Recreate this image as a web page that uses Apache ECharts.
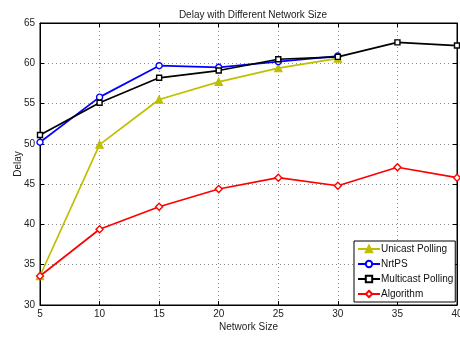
<!DOCTYPE html>
<html>
<head>
<meta charset="utf-8">
<script src="https://cdn.jsdelivr.net/npm/echarts@6/dist/echarts.min.js"></script>
<style>
  html, body { margin: 0; padding: 0; background: #fff; }
  #chart { width: 460px; height: 338px; }
</style>
</head>
<body>
<div id="chart"></div>
<script>
// Network sizes on the x axis
const networkSize = [5, 10, 15, 20, 25, 30, 35, 40];

// Average delay per scheme
const unicastPolling = [33.6, 49.9, 55.5, 57.7, 59.4, 60.6];
const nrtps = [50.2, 55.8, 59.7, 59.5, 60.2, 60.9];
const multicastPolling = [51.1, 55.1, 58.2, 59.1, 60.5, 60.8, 62.6, 62.2];
const algorithm = [33.6, 39.4, 42.2, 44.4, 45.8, 44.8, 47.1, 45.8];

const seriesNames = ['Unicast Polling', 'NrtPS', 'Multicast Polling', 'Algorithm'];

const pairs = vals => vals.map((v, i) => [networkSize[i], v]);

const FONT = 'Liberation Sans';

const chart = echarts.init(document.getElementById('chart'), null, { renderer: 'canvas' });

const dotted = { show: true, lineStyle: { color: '#888', type: [1, 3], width: 1 } };

function line(name, data, color, symbol, size, fill) {
  return {
    name: name,
    type: 'line',
    data: pairs(data),
    symbol: symbol,
    symbolSize: size,
    showSymbol: true,
    lineStyle: { color: color, width: 1.7 },
    itemStyle: { color: fill ? color : '#fff', borderColor: color, borderWidth: 1.4 },
    emphasis: { disabled: true },
    animation: false,
    z: 3
  };
}

chart.setOption({
  backgroundColor: '#fff',
  animation: false,
  title: {
    text: 'Delay with Different Network Size',
    left: 248,
    top: 5,
    textAlign: 'center',
    textStyle: { fontFamily: FONT, fontSize: 10, fontWeight: 'normal', color: '#222' }
  },
  grid: {
    left: 40, right: 3, top: 23, bottom: 33,
    outerBoundsMode: 'none', containLabel: false,
    show: true, borderColor: '#000', borderWidth: 1
  },
  legend: {
    data: seriesNames,
    orient: 'vertical',
    left: 354,
    top: 241,
    itemGap: 5,
    itemWidth: 22,
    itemHeight: 8,
    padding: [3, 2, 3, 3],
    borderColor: '#000',
    borderWidth: 1,
    backgroundColor: '#fff',
    textStyle: { fontFamily: FONT, fontSize: 10, color: '#111', padding: [0, 0, 0, -4] }
  },
  xAxis: [{
    type: 'value',
    min: 5,
    max: 40,
    interval: 5,
    name: 'Network Size',
    nameLocation: 'middle',
    nameGap: 17,
    nameMoveOverlap: false,
    nameTextStyle: { fontFamily: FONT, fontSize: 10, color: '#222' },
    axisLine: { show: true, onZero: false, lineStyle: { color: '#000' } },
    axisTick: { show: true, inside: true, length: 4, lineStyle: { color: '#000' } },
    axisLabel: { fontFamily: FONT, fontSize: 10, color: '#222', margin: 4 },
    splitLine: dotted
  }, {
    type: 'value',
    position: 'top',
    min: 5,
    max: 40,
    interval: 5,
    axisLine: { show: true, onZero: false, lineStyle: { color: '#000' } },
    axisTick: { show: true, inside: true, length: 4, lineStyle: { color: '#000' } },
    axisLabel: { show: false },
    splitLine: { show: false }
  }],
  yAxis: [{
    type: 'value',
    min: 30,
    max: 65,
    interval: 5,
    name: 'Delay',
    nameLocation: 'middle',
    nameGap: 17,
    nameMoveOverlap: false,
    nameTextStyle: { fontFamily: FONT, fontSize: 10, color: '#222' },
    axisLine: { show: true, onZero: false, lineStyle: { color: '#000' } },
    axisTick: { show: true, inside: true, length: 4, lineStyle: { color: '#000' } },
    axisLabel: { fontFamily: FONT, fontSize: 10, color: '#222', margin: 5 },
    splitLine: dotted
  }, {
    type: 'value',
    position: 'right',
    min: 30,
    max: 65,
    interval: 5,
    axisLine: { show: true, onZero: false, lineStyle: { color: '#000' } },
    axisTick: { show: true, inside: true, length: 4, lineStyle: { color: '#000' } },
    axisLabel: { show: false },
    splitLine: { show: false }
  }],
  series: [
    line(seriesNames[0], unicastPolling, '#bfbf00', 'triangle', 7, true),
    line(seriesNames[1], nrtps, '#0000ff', 'circle', 6, false),
    line(seriesNames[2], multicastPolling, '#000000', 'rect', 5, false),
    line(seriesNames[3], algorithm, '#ff0000', 'diamond', 7, false)
  ]
});
</script>
</body>
</html>
